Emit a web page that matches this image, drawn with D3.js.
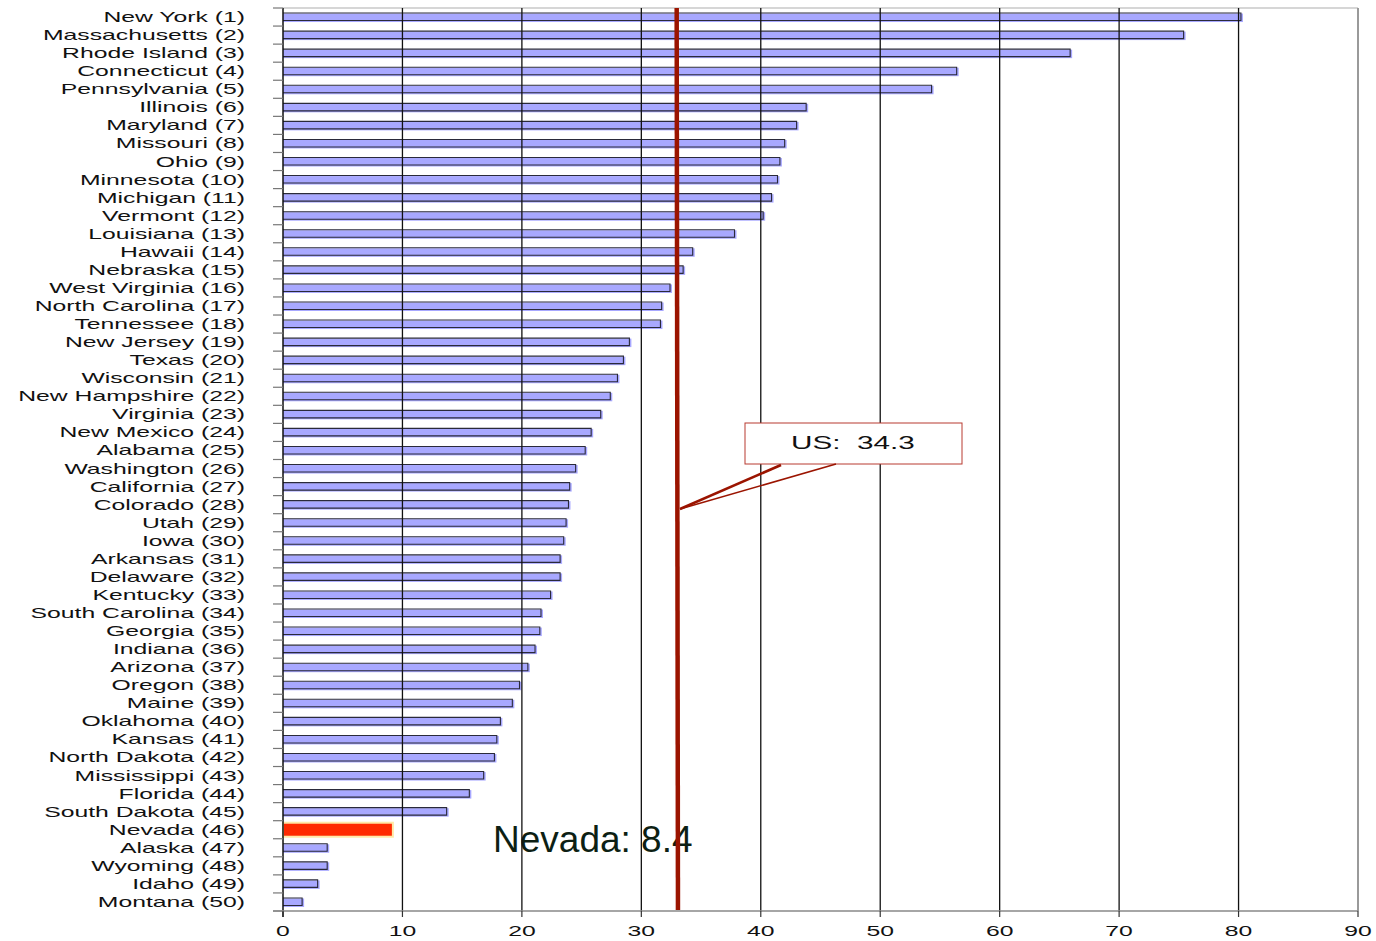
<!DOCTYPE html>
<html><head><meta charset="utf-8">
<script src="https://cdn.jsdelivr.net/npm/d3@7"></script>
<style>html,body{margin:0;padding:0;background:#fff;} svg{display:block;} text{white-space:pre;}</style>
</head><body>
<svg id="c" width="1376" height="941"></svg>
<script>
const states = ["New York","Massachusetts","Rhode Island","Connecticut","Pennsylvania","Illinois","Maryland","Missouri","Ohio","Minnesota","Michigan","Vermont","Louisiana","Hawaii","Nebraska","West Virginia","North Carolina","Tennessee","New Jersey","Texas","Wisconsin","New Hampshire","Virginia","New Mexico","Alabama","Washington","California","Colorado","Utah","Iowa","Arkansas","Delaware","Kentucky","South Carolina","Georgia","Indiana","Arizona","Oregon","Maine","Oklahoma","Kansas","North Dakota","Mississippi","Florida","South Dakota","Nevada","Alaska","Wyoming","Idaho","Montana"];
const values = [80.2,75.4,65.9,56.4,54.3,43.8,43.0,42.0,41.6,41.4,40.9,40.2,37.8,34.3,33.5,32.4,31.7,31.6,29.0,28.5,28.0,27.4,26.6,25.8,25.3,24.5,24.0,23.9,23.7,23.5,23.2,23.2,22.4,21.6,21.5,21.1,20.5,19.8,19.2,18.2,17.9,17.7,16.8,15.6,13.7,9.2,3.7,3.7,2.9,1.6];
const xTicks = [0,10,20,30,40,50,60,70,80,90];
const highlight = "Nevada";
const usLineValue = 33.0;
const usLabel = "US:  34.3";
const nevadaLabel = "Nevada: 8.4";

const svg = d3.select("#c");
const x = d3.scaleLinear().domain([0,90]).range([283,1358]);
const y = d3.scaleBand().domain(states).range([8,911]).paddingInner(0);
const SX = 1.65;
const font = "'Liberation Sans', Arial, sans-serif";

// top border
svg.append("line").attr("x1",x(0)).attr("x2",x(90)).attr("y1",8).attr("y2",8).attr("stroke","#c8c8c8").attr("stroke-width",1.5);

// Nevada big text (under grid)
svg.append("text").attr("x",493).attr("y",852).attr("font-family",font).attr("font-size",37).attr("fill","#0d1f14").text(nevadaLabel);

// bars
const bars = svg.append("g");
states.forEach((s,i)=>{
  const v = values[i];
  const yc = y(s) + y.bandwidth()/2;
  if (s === highlight) {
    bars.append("rect").attr("x",x(0)).attr("y",yc-7).attr("width",x(v)-x(0)).attr("height",14)
      .attr("fill","#ff2a00").attr("stroke","#ffe9a8").attr("stroke-width",2);
  } else {
    bars.append("rect").attr("x",x(0)).attr("y",yc-3.5).attr("width",x(v)-x(0)+2).attr("height",8.5).attr("fill","#a8a8ff");
    bars.append("path").attr("d",`M${x(0)},${yc-4}H${x(v)}V${yc+3.5}H${x(0)}`)
      .attr("fill","none").attr("stroke","#2a2a3a").attr("stroke-width",1.1);
  }
});

// grid lines
xTicks.forEach(t=>{
  if (t===0) return;
  svg.append("line").attr("x1",x(t)).attr("x2",x(t)).attr("y1",8).attr("y2",911)
    .attr("stroke", t===90 ? "#9a9a9a" : "#111").attr("stroke-width", t===90 ? 2 : 1.3);
});

// left axis line and ticks
svg.append("line").attr("x1",x(0)).attr("x2",x(0)).attr("y1",8).attr("y2",917).attr("stroke","#111").attr("stroke-width",1.5);
const bounds = states.map(s=>y(s)).concat([911]);
bounds.forEach(b=>{
  svg.append("line").attr("x1",273).attr("x2",x(0)).attr("y1",b).attr("y2",b).attr("stroke","#777").attr("stroke-width",1.2);
});

// bottom axis
svg.append("line").attr("x1",273).attr("x2",x(90)).attr("y1",911).attr("y2",911).attr("stroke","#888").attr("stroke-width",1.5);
xTicks.forEach(t=>{
  svg.append("line").attr("x1",x(t)).attr("x2",x(t)).attr("y1",911).attr("y2",917).attr("stroke","#333").attr("stroke-width",1.2);
  svg.append("text").attr("transform",`translate(${x(t)},936) scale(${SX},1)`).attr("text-anchor","middle")
    .attr("font-family",font).attr("font-size",15).attr("fill","#111").text(t);
});

// category labels
states.forEach((s,i)=>{
  const yc = y(s) + y.bandwidth()/2;
  svg.append("text").attr("transform",`translate(245,${yc+5}) scale(${SX},1)`).attr("text-anchor","end")
    .attr("font-family",font).attr("font-size",15).attr("fill","#111").text(`${s} (${i+1})`);
});

// US line
svg.append("line").attr("x1",x(usLineValue)-0.5).attr("x2",x(usLineValue)+0.8).attr("y1",8).attr("y2",910)
  .attr("stroke","#9b1400").attr("stroke-width",4.5);

// callout
const cg = svg.append("g");
cg.append("rect").attr("x",745).attr("y",423).attr("width",217).attr("height",41).attr("fill","#fff").attr("stroke","#b83a30").attr("stroke-width",1);
cg.append("line").attr("x1",781).attr("y1",465).attr("x2",680).attr("y2",509).attr("stroke","#9b1400").attr("stroke-width",2.6);
cg.append("line").attr("x1",836).attr("y1",464).attr("x2",680).attr("y2",509).attr("stroke","#9b1400").attr("stroke-width",1.6);
cg.append("text").attr("transform",`translate(853,449) scale(${SX},1)`).attr("text-anchor","middle")
  .attr("font-family",font).attr("font-size",18).attr("fill","#111").text(usLabel);
</script>
</body></html>
